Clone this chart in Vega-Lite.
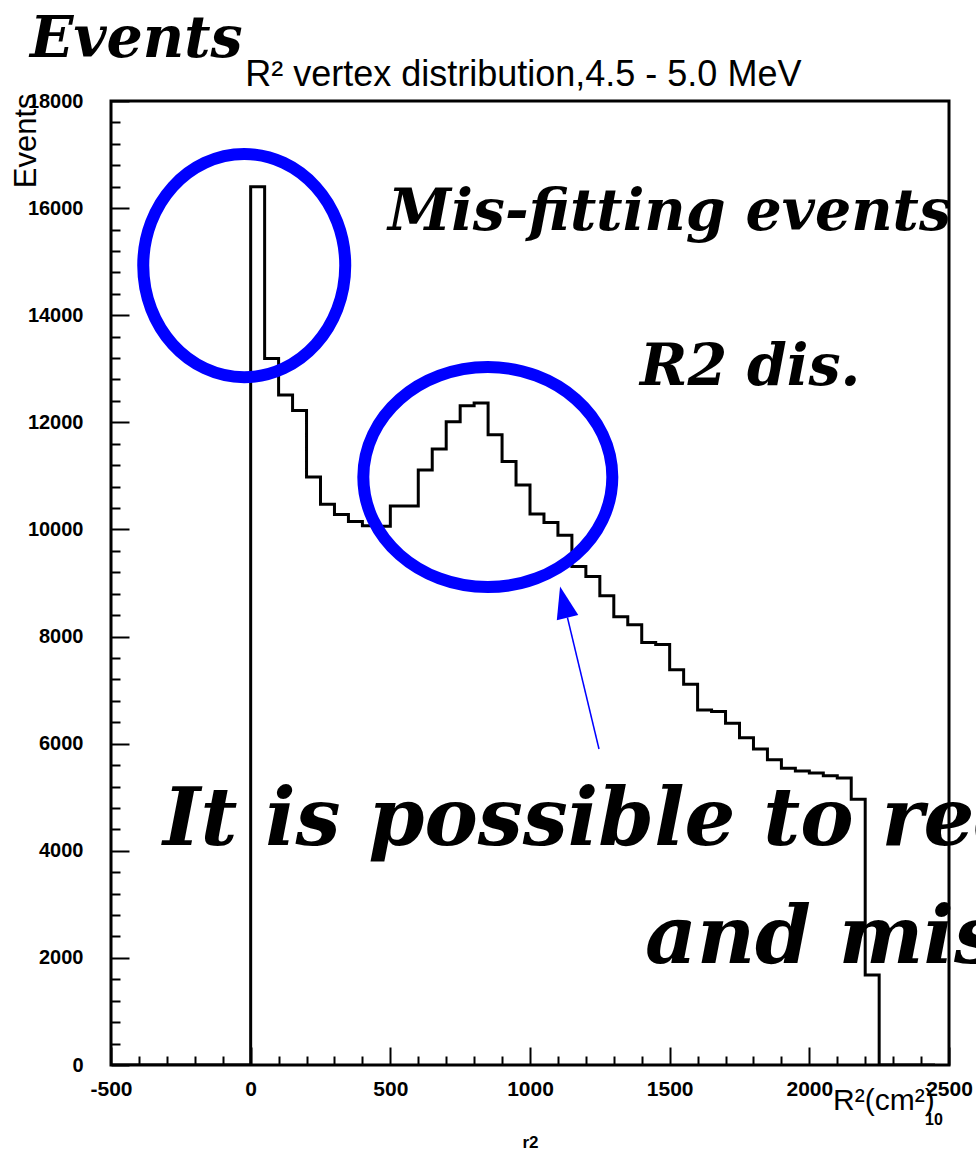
{
  "$schema": "https://vega.github.io/schema/vega-lite/v6.json",
  "width": 838,
  "height": 964,
  "autosize": {"type": "none"},
  "padding": {"left": 111, "top": 101, "right": 27, "bottom": 87},
  "background": "white",
  "config": {
    "view": {"stroke": "black", "strokeWidth": 3},
    "font": "Liberation Sans"
  },
  "layer": [
    {
      "data": {
        "values": [
          {"r2": -500, "events": 0}, {"r2": -450, "events": 0}, {"r2": -400, "events": 0},
          {"r2": -350, "events": 0}, {"r2": -300, "events": 0}, {"r2": -250, "events": 0},
          {"r2": -200, "events": 0}, {"r2": -150, "events": 0}, {"r2": -100, "events": 0},
          {"r2": -50, "events": 0},
          {"r2": 0, "events": 16400}, {"r2": 50, "events": 13190}, {"r2": 100, "events": 12510},
          {"r2": 150, "events": 12220}, {"r2": 200, "events": 10980}, {"r2": 250, "events": 10470},
          {"r2": 300, "events": 10280}, {"r2": 350, "events": 10150}, {"r2": 400, "events": 10070},
          {"r2": 450, "events": 10060}, {"r2": 500, "events": 10440}, {"r2": 550, "events": 10440},
          {"r2": 600, "events": 11110}, {"r2": 650, "events": 11500}, {"r2": 700, "events": 12010},
          {"r2": 750, "events": 12310}, {"r2": 800, "events": 12360}, {"r2": 850, "events": 11770},
          {"r2": 900, "events": 11270}, {"r2": 950, "events": 10830}, {"r2": 1000, "events": 10290},
          {"r2": 1050, "events": 10130}, {"r2": 1100, "events": 9890}, {"r2": 1150, "events": 9310},
          {"r2": 1200, "events": 9120}, {"r2": 1250, "events": 8760}, {"r2": 1300, "events": 8370},
          {"r2": 1350, "events": 8220}, {"r2": 1400, "events": 7890}, {"r2": 1450, "events": 7850},
          {"r2": 1500, "events": 7380}, {"r2": 1550, "events": 7110}, {"r2": 1600, "events": 6630},
          {"r2": 1650, "events": 6600}, {"r2": 1700, "events": 6380}, {"r2": 1750, "events": 6110},
          {"r2": 1800, "events": 5900}, {"r2": 1850, "events": 5700}, {"r2": 1900, "events": 5540},
          {"r2": 1950, "events": 5490}, {"r2": 2000, "events": 5450}, {"r2": 2050, "events": 5400},
          {"r2": 2100, "events": 5360}, {"r2": 2150, "events": 4960}, {"r2": 2200, "events": 1680},
          {"r2": 2250, "events": 0}, {"r2": 2300, "events": 0}, {"r2": 2350, "events": 0},
          {"r2": 2400, "events": 0}, {"r2": 2450, "events": 0}
        ]
      },
      "mark": {"type": "line", "interpolate": "step-after", "color": "black", "strokeWidth": 3, "clip": true},
      "encoding": {
        "x": {
          "field": "r2",
          "type": "quantitative",
          "title": "r2",
          "scale": {"domain": [-500, 2500], "nice": false, "zero": false},
          "axis": {
            "values": [-500, -400, -300, -200, -100, 0, 100, 200, 300, 400, 500, 600, 700, 800, 900, 1000, 1100, 1200, 1300, 1400, 1500, 1600, 1700, 1800, 1900, 2000, 2100, 2200, 2300, 2400, 2500],
            "tickCount": 200,
            "labelExpr": "datum.value % 500 === 0 ? '' + datum.value : ''",
            "tickSize": {"condition": {"test": "datum.value % 500 === 0", "value": -18}, "value": -9},
            "tickColor": "black",
            "tickWidth": 2,
            "domain": false,
            "grid": false,
            "labelFont": "Liberation Sans",
            "labelFontWeight": "bold",
            "labelFontSize": 21,
            "labelColor": "black",
            "labelPadding": 31,
            "labelFlush": false,
            "labelOverlap": false,
            "titleFont": "Liberation Sans",
            "titleFontWeight": "bold",
            "titleFontSize": 17,
            "titleColor": "black",
            "titlePadding": 26
          }
        },
        "y": {
          "field": "events",
          "type": "quantitative",
          "title": "Events",
          "scale": {"domain": [0, 18000], "nice": false, "zero": true},
          "axis": {
            "values": [0, 400, 800, 1200, 1600, 2000, 2400, 2800, 3200, 3600, 4000, 4400, 4800, 5200, 5600, 6000, 6400, 6800, 7200, 7600, 8000, 8400, 8800, 9200, 9600, 10000, 10400, 10800, 11200, 11600, 12000, 12400, 12800, 13200, 13600, 14000, 14400, 14800, 15200, 15600, 16000, 16400, 16800, 17200, 17600, 18000],
            "tickCount": 200,
            "labelExpr": "datum.value % 2000 === 0 ? '' + datum.value : ''",
            "tickSize": {"condition": {"test": "datum.value % 2000 === 0", "value": -18}, "value": -9},
            "tickColor": "black",
            "tickWidth": 2,
            "domain": false,
            "grid": false,
            "labelFont": "Liberation Sans",
            "labelFontWeight": "bold",
            "labelFontSize": 20,
            "labelColor": "black",
            "labelPadding": 46,
            "labelFlush": false,
            "labelOverlap": false,
            "titleFont": "Liberation Sans",
            "titleFontWeight": "normal",
            "titleFontSize": 31,
            "titleColor": "black",
            "titleAnchor": "end",
            "titleAlign": "right",
            "titleBaseline": "middle",
            "titleX": -85,
            "titleY": -8
          }
        }
      }
    },
    {
      "data": {"values": [{"r2": -23, "events": 14927}]},
      "mark": {
        "type": "point",
        "shape": "M 1 0 C 1 0.6103 0.5523 1.105 0 1.105 C -0.5523 1.105 -1 0.6103 -1 0 C -1 -0.6103 -0.5523 -1.105 0 -1.105 C 0.5523 -1.105 1 -0.6103 1 0 Z",
        "size": 40804,
        "filled": false,
        "stroke": "#0000ff",
        "strokeWidth": 12,
        "opacity": 1
      },
      "encoding": {
        "x": {"field": "r2", "type": "quantitative"},
        "y": {"field": "events", "type": "quantitative"}
      }
    },
    {
      "data": {"values": [{"r2": 849, "events": 10978}]},
      "mark": {
        "type": "point",
        "shape": "M 1 0 C 1 0.4886 0.5523 0.8835 0 0.8835 C -0.5523 0.8835 -1 0.4886 -1 0 C -1 -0.4886 -0.5523 -0.8835 0 -0.8835 C 0.5523 -0.8835 1 -0.4886 1 0 Z",
        "size": 62001,
        "filled": false,
        "stroke": "#0000ff",
        "strokeWidth": 12,
        "opacity": 1
      },
      "encoding": {
        "x": {"field": "r2", "type": "quantitative"},
        "y": {"field": "events", "type": "quantitative"}
      }
    },
    {
      "data": {"values": [{"r2": 1247, "events": 5901, "r2_end": 1134, "events_end": 8356}]},
      "mark": {"type": "rule", "color": "#0000ff", "strokeWidth": 1.5},
      "encoding": {
        "x": {"field": "r2", "type": "quantitative"},
        "y": {"field": "events", "type": "quantitative"},
        "x2": {"field": "r2_end"},
        "y2": {"field": "events_end"}
      }
    },
    {
      "data": {"values": [{"r2": 1121, "events": 8645}]},
      "mark": {
        "type": "point",
        "shape": "M 0 -1 L 0.69 1 L -0.69 1 Z",
        "size": 1024,
        "filled": true,
        "color": "#0000ff",
        "angle": -13.5,
        "opacity": 1
      },
      "encoding": {
        "x": {"field": "r2", "type": "quantitative"},
        "y": {"field": "events", "type": "quantitative"}
      }
    },
    {
      "data": {"values": [{"label": "R² vertex distribution,4.5 - 5.0 MeV", "r2": 976, "events": 18280}]},
      "mark": {
        "type": "text",
        "font": "Liberation Sans",
        "fontSize": 36,
        "align": "center",
        "baseline": "alphabetic",
        "color": "black"
      },
      "encoding": {
        "x": {"field": "r2", "type": "quantitative"},
        "y": {"field": "events", "type": "quantitative"},
        "text": {"field": "label"}
      }
    },
    {
      "data": {
        "values": [
          {"label": "Events", "r2": -790, "events": 18822},
          {"label": "Mis-fitting events", "r2": 492, "events": 15591},
          {"label": "R2 dis.", "r2": 1394, "events": 12697}
        ]
      },
      "mark": {
        "type": "text",
        "font": "DejaVu Serif",
        "fontSize": 57,
        "fontStyle": "italic",
        "fontWeight": "bold",
        "align": "left",
        "baseline": "alphabetic",
        "color": "black"
      },
      "encoding": {
        "x": {"field": "r2", "type": "quantitative"},
        "y": {"field": "events", "type": "quantitative"},
        "text": {"field": "label"}
      }
    },
    {
      "data": {
        "values": [
          {"label": "It is possible to reduce", "r2": -314, "events": 4108},
          {"label": "and mis-fitting", "r2": 1412, "events": 1905}
        ]
      },
      "mark": {
        "type": "text",
        "font": "DejaVu Serif",
        "fontSize": 80,
        "fontStyle": "italic",
        "fontWeight": "bold",
        "align": "left",
        "baseline": "alphabetic",
        "color": "black"
      },
      "encoding": {
        "x": {"field": "r2", "type": "quantitative"},
        "y": {"field": "events", "type": "quantitative"},
        "text": {"field": "label"}
      }
    },
    {
      "data": {"values": [{"label": "R²(cm²)", "r2": 2085, "events": -840}]},
      "mark": {
        "type": "text",
        "font": "Liberation Sans",
        "fontSize": 30,
        "align": "left",
        "baseline": "alphabetic",
        "color": "black"
      },
      "encoding": {
        "x": {"field": "r2", "type": "quantitative"},
        "y": {"field": "events", "type": "quantitative"},
        "text": {"field": "label"}
      }
    },
    {
      "data": {"values": [{"label": "10", "r2": 2414, "events": -1120}]},
      "mark": {
        "type": "text",
        "font": "Liberation Sans",
        "fontSize": 16,
        "fontWeight": "bold",
        "align": "left",
        "baseline": "alphabetic",
        "color": "black"
      },
      "encoding": {
        "x": {"field": "r2", "type": "quantitative"},
        "y": {"field": "events", "type": "quantitative"},
        "text": {"field": "label"}
      }
    }
  ]
}
